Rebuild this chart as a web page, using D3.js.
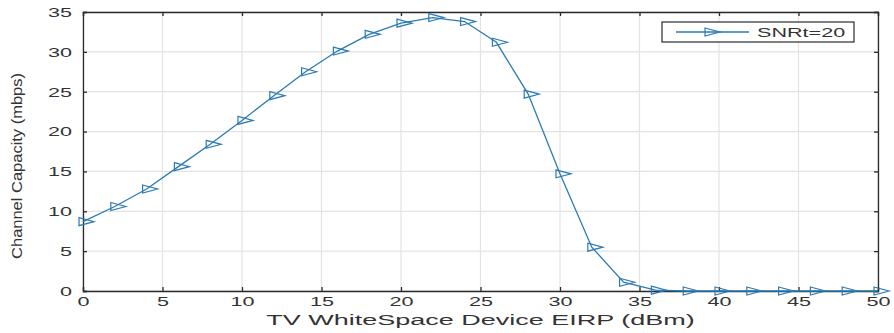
<!DOCTYPE html>
<html>
<head>
<meta charset="utf-8">
<script src="https://cdn.jsdelivr.net/npm/d3@7"></script>
<style>
  html, body { margin: 0; padding: 0; background: #fff; }
  svg { display: block; font-family: "Liberation Sans", Arial, sans-serif; }
</style>
</head>
<body>
<svg id="chart" width="894" height="333"></svg>
<script>
// EIRP sweep (dBm) and resulting channel capacity (mbps)
const eirp = [0, 2, 4, 6, 8, 10, 12, 14, 16, 18, 20, 22, 24, 26, 28, 30, 32, 34, 36, 38, 40, 42, 44, 46, 48, 50];
const capacity = [8.7, 10.6, 12.8, 15.6, 18.4, 21.4, 24.5, 27.5, 30.1, 32.2, 33.6, 34.3, 33.8, 31.2, 24.7, 14.7, 5.5, 1.1, 0.1, 0, 0, 0, 0, 0, 0, 0];
const xTicks = [0, 5, 10, 15, 20, 25, 30, 35, 40, 45, 50];
const yTicks = [0, 5, 10, 15, 20, 25, 30, 35];
const seriesName = "SNRt=20";
const xLabel = "TV WhiteSpace Device EIRP (dBm)";
const yLabel = "Channel Capacity (mbps)";

const W = 894, H = 333;
const plot = { left: 83, top: 12, right: 878, bottom: 291 };
const SX = 1.8;            // horizontal stretch of all glyphs
const lineColor = "#2b7bb3";
const axisColor = "#2b2b2b";
const gridColor = "#e3e3e3";

const svg = d3.select("#chart");

const x = d3.scaleLinear().domain([0, 50]).range([plot.left, plot.right]);
const y = d3.scaleLinear().domain([0, 35]).range([plot.bottom, plot.top]);

// grid
const grid = svg.append("g");
grid.selectAll("line.gx").data(xTicks).join("line")
  .attr("x1", d => x(d)).attr("x2", d => x(d))
  .attr("y1", plot.top).attr("y2", plot.bottom)
  .attr("stroke", gridColor).attr("stroke-width", 1.2);
grid.selectAll("line.gy").data(yTicks).join("line")
  .attr("x1", plot.left).attr("x2", plot.right)
  .attr("y1", d => y(d)).attr("y2", d => y(d))
  .attr("stroke", gridColor).attr("stroke-width", 1.2);

// axes (inward ticks on all four sides)
const tickLen = 4;
const bottomAxis = svg.append("g")
  .attr("transform", `translate(0,${plot.bottom})`)
  .call(d3.axisBottom(x).tickValues(xTicks).tickSize(-tickLen).tickPadding(0).tickFormat(d3.format("d")));
const topAxis = svg.append("g")
  .attr("transform", `translate(0,${plot.top})`)
  .call(d3.axisTop(x).tickValues(xTicks).tickSize(-tickLen).tickFormat(""));
const leftAxis = svg.append("g")
  .attr("transform", `translate(${plot.left},0)`)
  .call(d3.axisLeft(y).tickValues(yTicks).tickSize(-tickLen).tickFormat(d3.format("d")));
const rightAxis = svg.append("g")
  .attr("transform", `translate(${plot.right},0)`)
  .call(d3.axisRight(y).tickValues(yTicks).tickSize(-tickLen).tickFormat(""));

[bottomAxis, topAxis, leftAxis, rightAxis].forEach(g => {
  g.select(".domain").attr("stroke", axisColor).attr("stroke-width", 1.3);
  g.selectAll(".tick line").attr("stroke", axisColor).attr("stroke-width", 1.3);
});

bottomAxis.selectAll(".tick text")
  .attr("y", 15).attr("dy", 0)
  .attr("font-size", 12).attr("fill", "#333")
  .attr("transform", `scale(${SX},1)`);
leftAxis.selectAll(".tick text")
  .attr("x", -11 / SX).attr("dy", "0.36em")
  .attr("font-size", 12).attr("fill", "#333")
  .attr("transform", `scale(${SX},1)`);

// axis titles
svg.append("text")
  .attr("transform", `translate(${(plot.left + plot.right) / 2},325) scale(${SX},1)`)
  .attr("text-anchor", "middle")
  .attr("font-size", 15).attr("fill", "#333")
  .text(xLabel);

const yl = svg.append("text")
  .attr("text-anchor", "middle")
  .attr("font-size", 14).attr("fill", "#333")
  .text(yLabel);
const ylLen = yl.node().getComputedTextLength();
yl.attr("transform", `translate(22,166) rotate(-90) scale(${186 / ylLen},1)`);

// series line
const line = d3.line().x((d, i) => x(eirp[i])).y(d => y(d));
svg.append("path")
  .datum(capacity)
  .attr("d", line)
  .attr("fill", "none")
  .attr("stroke", lineColor)
  .attr("stroke-width", 1.3);

// right-pointing triangle marker
const tri = "M-4,-4L11,0L-4,4Z";
svg.append("g").selectAll("path").data(capacity).join("path")
  .attr("transform", (d, i) => `translate(${x(eirp[i])},${y(d)})`)
  .attr("d", tri)
  .attr("fill", "none")
  .attr("stroke", lineColor)
  .attr("stroke-width", 1.2);

// legend
const lg = svg.append("g");
lg.append("rect")
  .attr("x", 662).attr("y", 22).attr("width", 192).attr("height", 20)
  .attr("fill", "#fff").attr("stroke", axisColor).attr("stroke-width", 1.2);
lg.append("line")
  .attr("x1", 676).attr("x2", 749).attr("y1", 32).attr("y2", 32)
  .attr("stroke", lineColor).attr("stroke-width", 1.3);
lg.append("path")
  .attr("transform", "translate(709,32)")
  .attr("d", tri)
  .attr("fill", "none").attr("stroke", lineColor).attr("stroke-width", 1.2);
lg.append("text")
  .attr("transform", `translate(757,37) scale(${SX},1)`)
  .attr("font-size", 12).attr("fill", "#333")
  .text(seriesName);
</script>
</body>
</html>
